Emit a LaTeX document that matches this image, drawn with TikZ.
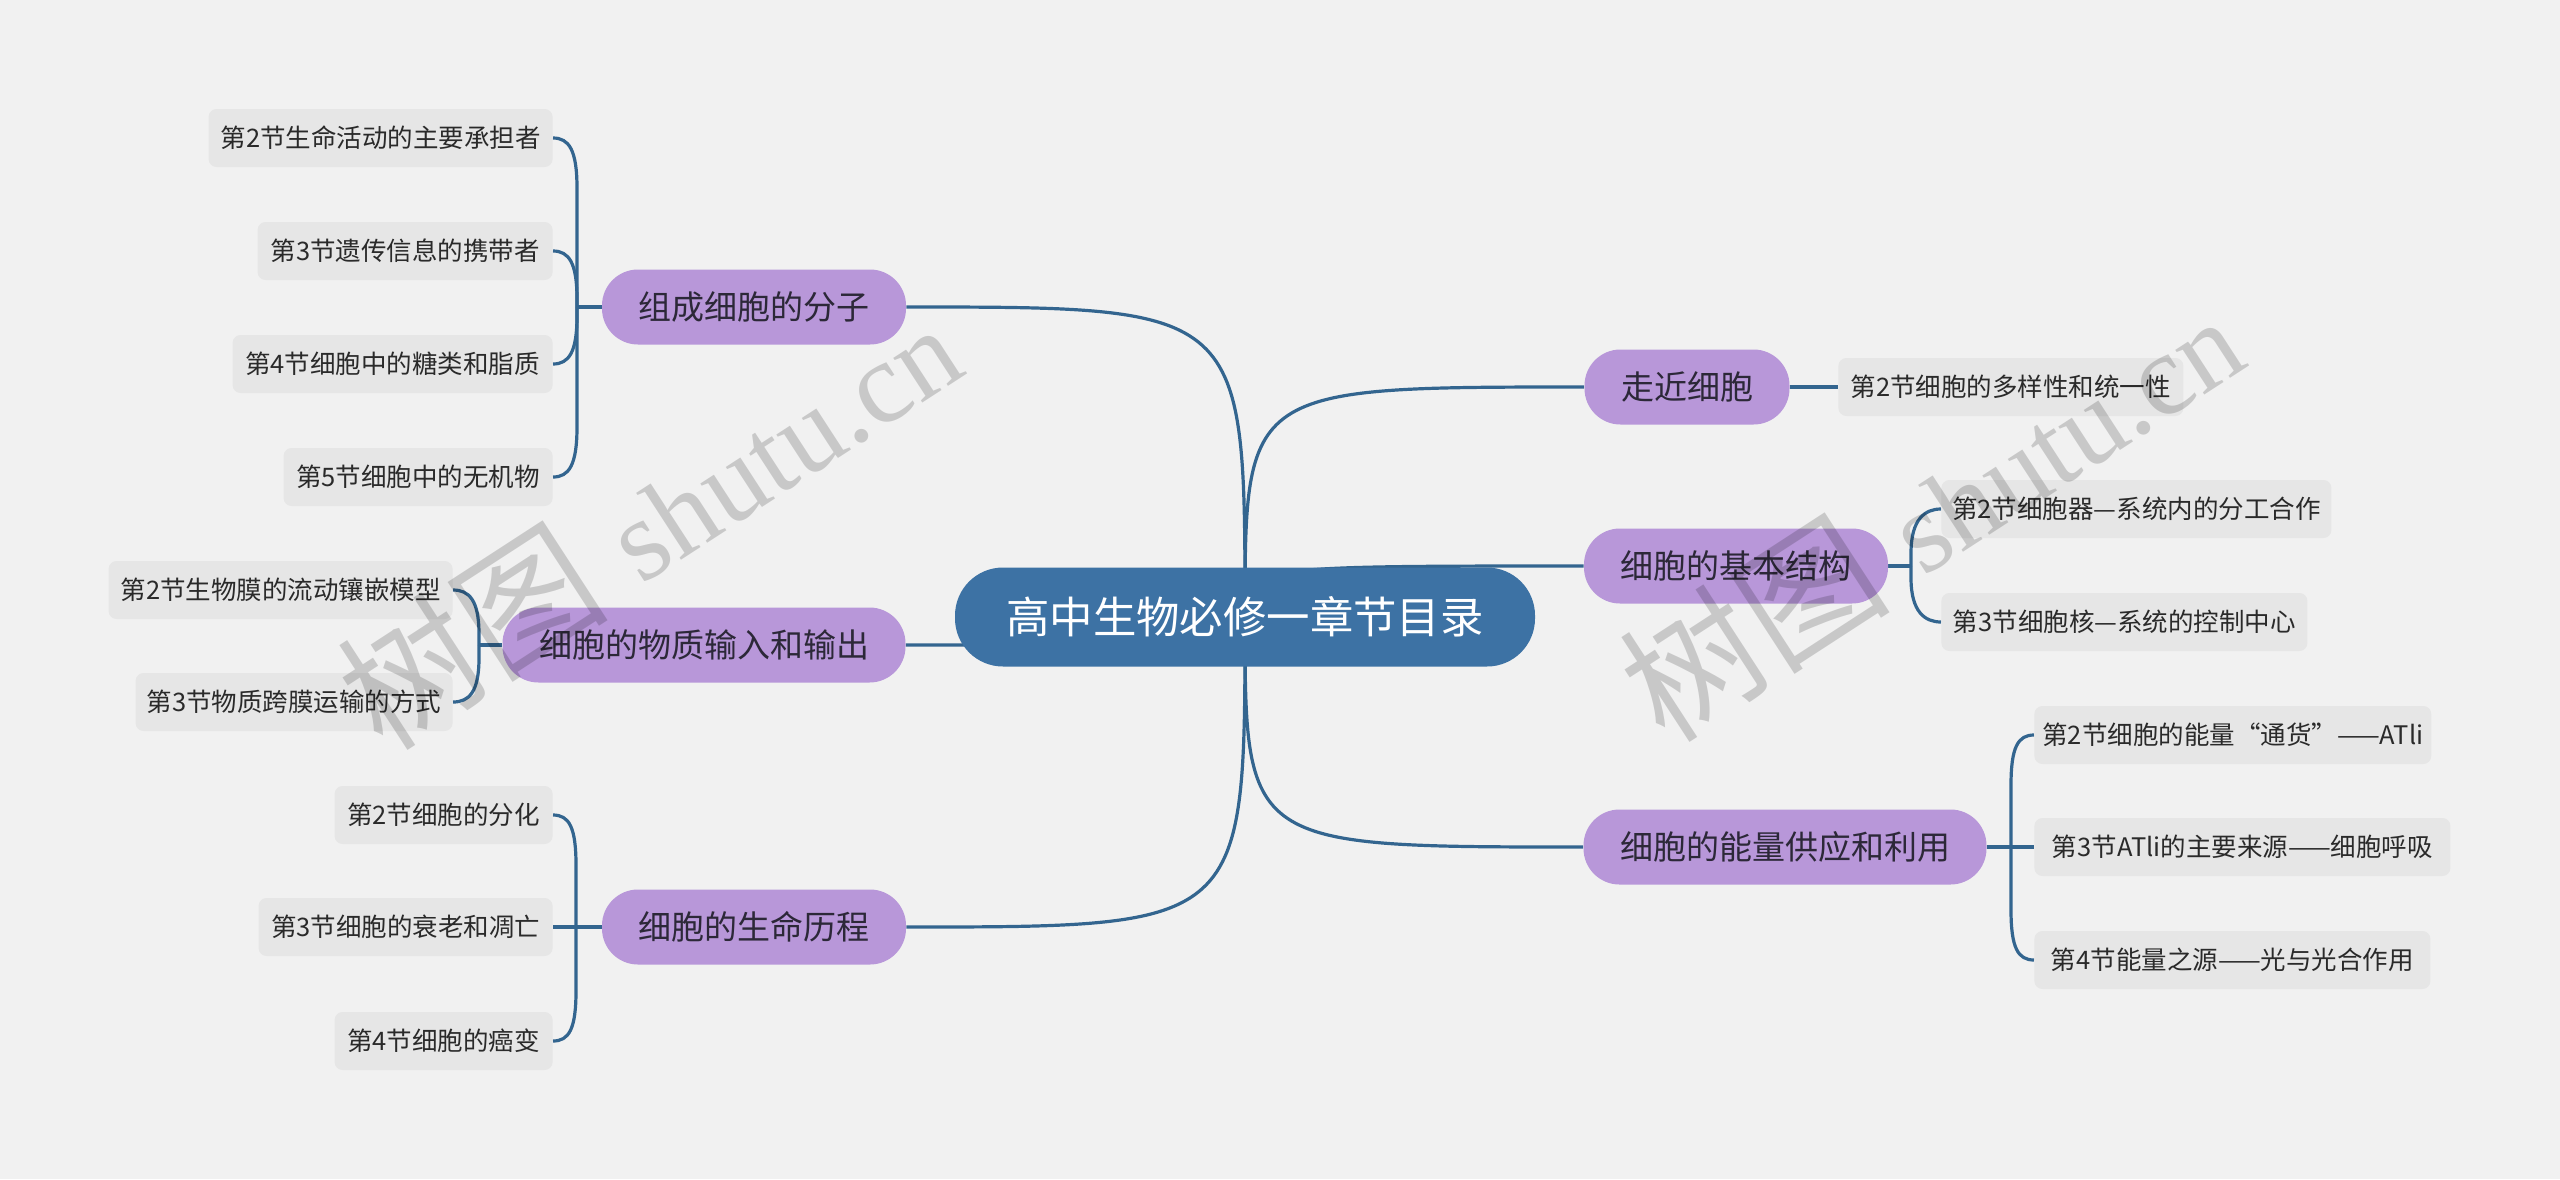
\documentclass[tikz,border=0pt]{standalone}
\usepackage{fontspec}
\setmainfont{Noto Sans CJK SC}
\newfontfamily\wmserif{Liberation Serif}
\usetikzlibrary{calc}
\definecolor{bgc}{HTML}{F1F1F1}
\definecolor{cfill}{HTML}{3D72A4}
\definecolor{pur}{HTML}{B897D9}
\definecolor{leaf}{HTML}{E6E6E6}
\definecolor{linec}{HTML}{33658F}
\definecolor{tdark}{HTML}{2C2838}
\definecolor{ldark}{HTML}{2A2A2A}
\pgfdeclarelayer{bglayer}
\pgfdeclarelayer{fglayer}
\pgfsetlayers{bglayer,main,fglayer}
\tikzset{
  rootbox/.style={rounded corners=24pt, fill=cfill, text=white, font=\fontsize{21.7pt}{26pt}\selectfont, minimum width=290pt, minimum height=49.5pt, inner sep=0pt},
  topicbox/.style={rounded corners=18pt, fill=pur, text=tdark, font=\fontsize{16.5pt}{20pt}\selectfont, minimum height=37.5pt, inner sep=0pt},
  leafbox/.style={rounded corners=4pt, fill=leaf, text=ldark, font=\fontsize{12.75pt}{15pt}\selectfont, minimum height=29pt, inner xsep=4pt, inner ysep=0pt},
  conn/.style={draw=linec, line width=1.6pt},
  wm/.style={text=black, text opacity=0.17, inner sep=0pt}
}
% bracket branch to a child on the left: #1 junction, #2 child, #3 offset, #4 quarter offset
\newcommand\brleft[4]{\draw[conn] (#1) -- ($(#1|-#2.east)+(0,#3)$) .. controls ($(#1|-#2.east)+(0,#4)$) and ($(#2.east)+(8pt,0)$) .. (#2.east);}
\newcommand\brright[4]{\draw[conn] (#1) -- ($(#1|-#2.west)+(0,#3)$) .. controls ($(#1|-#2.west)+(0,#4)$) and ($(#2.west)+(-8pt,0)$) .. (#2.west);}
\newcommand\wmtext{{\fontsize{68pt}{68pt}\selectfont 树图}\hspace{18pt}{\fontsize{58pt}{58pt}\selectfont\wmserif shutu.cn}}
\begin{document}
\begin{tikzpicture}[x=0.5pt,y=-0.5pt]
\begin{pgfonlayer}{bglayer}
\fill[bgc] (0,0) rectangle (2560,1179);
\end{pgfonlayer}
\useasboundingbox (0,0) rectangle (2560,1179);

% root and topics
\node[rootbox] (root) at (1245,617) {高中生物必修一章节目录};
\node[topicbox, minimum width=152pt] (t1) at (754,307) {组成细胞的分子};
\node[topicbox, minimum width=201.5pt] (t2) at (704,645) {细胞的物质输入和输出};
\node[topicbox, minimum width=152pt] (t3) at (754,927) {细胞的生命历程};
\node[topicbox, minimum width=102.5pt] (t4) at (1687,387) {走近细胞};
\node[topicbox, minimum width=152pt] (t5) at (1736,566) {细胞的基本结构};
\node[topicbox, minimum width=201.5pt] (t6) at (1785,847) {细胞的能量供应和利用};

% left leaves
\node[leafbox, anchor=east, minimum width=172pt] (a1) at (553,138) {第2节生命活动的主要承担者};
\node[leafbox, anchor=east, minimum width=147.5pt] (a2) at (553,251) {第3节遗传信息的携带者};
\node[leafbox, anchor=east, minimum width=160pt] (a3) at (553,364) {第4节细胞中的糖类和脂质};
\node[leafbox, anchor=east, minimum width=134.5pt] (a4) at (553,477) {第5节细胞中的无机物};
\coordinate (ja) at (577,307);

\node[leafbox, anchor=east, minimum width=172pt] (b1) at (453,590) {第2节生物膜的流动镶嵌模型};
\node[leafbox, anchor=east, minimum width=158.5pt] (b2) at (453,702) {第3节物质跨膜运输的方式};
\coordinate (jb) at (479,645);

\node[leafbox, anchor=east, minimum width=109pt] (c1) at (553,815) {第2节细胞的分化};
\node[leafbox, anchor=east, minimum width=147pt] (c2) at (553,927) {第3节细胞的衰老和凋亡};
\node[leafbox, anchor=east, minimum width=109pt] (c3) at (553,1041) {第4节细胞的癌变};
\coordinate (jc) at (576,927);

% right leaves
\node[leafbox, anchor=west, minimum width=172.5pt] (d1) at (1838,387) {第2节细胞的多样性和统一性};
\node[leafbox, anchor=west, minimum width=195pt] (e1) at (1941,509) {第2节细胞器—系统内的分工合作};
\node[leafbox, anchor=west, minimum width=183pt] (e2) at (1941,622) {第3节细胞核—系统的控制中心};
\coordinate (je) at (1911,566);

\node[leafbox, anchor=west, minimum width=196.5pt] (f1) at (2034,735) {第2节细胞的能量“通货”——ATli};
\node[leafbox, anchor=west, minimum width=208pt] (f2) at (2034,847) {第3节ATli的主要来源——细胞呼吸};
\node[leafbox, anchor=west, minimum width=198pt] (f3) at (2034,960) {第4节能量之源——光与光合作用};
\coordinate (jf) at (2011,847);

\begin{pgfonlayer}{bglayer}
% root connectors
\draw[conn] (root.center) .. controls (root.center |- t1.east) .. (t1.east);
\draw[conn] (root.center) .. controls (root.center |- t2.east) .. (t2.east);
\draw[conn] (root.center) .. controls (root.center |- t3.east) .. (t3.east);
\draw[conn] (root.center) .. controls (root.center |- t4.west) .. (t4.west);
\draw[conn] (root.center) .. controls (root.center |- t5.west) .. (t5.west);
\draw[conn] (root.center) .. controls (root.center |- t6.west) .. (t6.west);

% group a
\draw[conn] (t1.west) -- (ja);
\brleft{ja}{a1}{-25pt}{-6pt}
\brleft{ja}{a2}{-24pt}{-6pt}
\brleft{ja}{a3}{24pt}{6pt}
\brleft{ja}{a4}{25pt}{6pt}
% group b
\draw[conn] (t2.west) -- (jb);
\brleft{jb}{b1}{-22pt}{-5pt}
\brleft{jb}{b2}{22pt}{5pt}
% group c
\draw[conn] (t3.west) -- (jc);
\brleft{jc}{c1}{-25pt}{-6pt}
\draw[conn] (jc) -- (c2.east);
\brleft{jc}{c3}{25pt}{6pt}
% group d
\draw[conn] (t4.east) -- (d1.west);
% group e
\draw[conn] (t5.east) -- (je);
\brright{je}{e1}{-22pt}{-5pt}
\brright{je}{e2}{22pt}{5pt}
% group f
\draw[conn] (t6.east) -- (jf);
\brright{jf}{f1}{-25pt}{-6pt}
\draw[conn] (jf) -- (f2.west);
\brright{jf}{f3}{25pt}{6pt}
\end{pgfonlayer}

% watermarks
\begin{pgfonlayer}{fglayer}
\node[wm, rotate=33] (w1) at (648,520) {\wmtext};
\node[wm, rotate=33] (w2) at (1930,512) {\wmtext};
\end{pgfonlayer}
\end{tikzpicture}
\end{document}
